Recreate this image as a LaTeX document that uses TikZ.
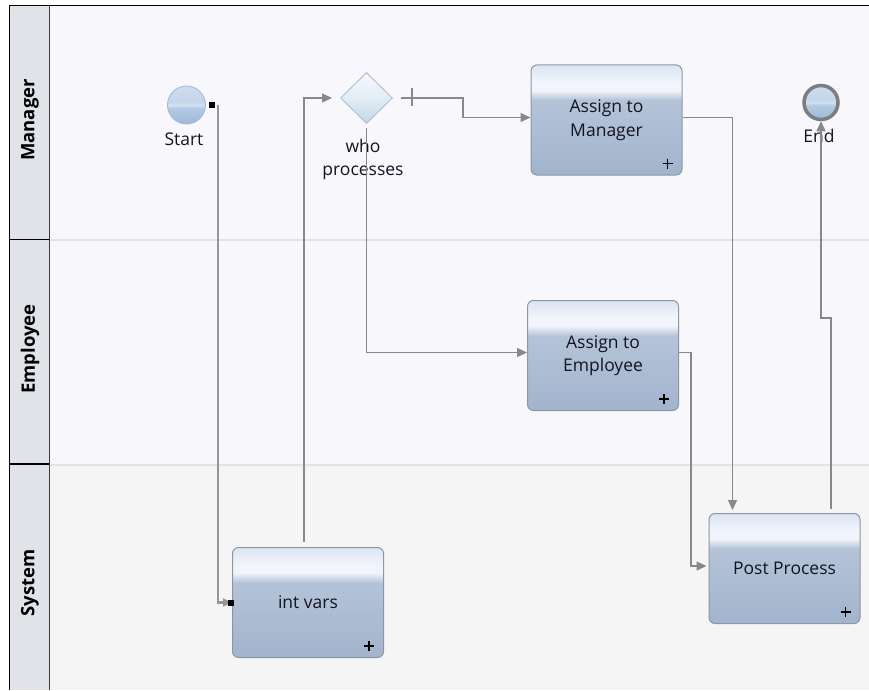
\documentclass[tikz,border=0pt]{standalone}
\usepackage{fontspec}
\setmainfont{Open Sans}
\usetikzlibrary{arrows.meta,shapes.geometric,calc}

% lane and frame colours
\definecolor{lanebg}{RGB}{248,248,252}
\definecolor{sysbg}{RGB}{245,245,245}
\definecolor{headbg}{RGB}{224,227,232}
\definecolor{lanesep}{RGB}{226,227,232}
\definecolor{headline}{RGB}{58,58,58}
% connectors and outlines
\definecolor{flowgray}{RGB}{136,136,136}
\definecolor{startgray}{RGB}{150,150,150}
\definecolor{boxline}{RGB}{140,150,164}
\definecolor{txt}{RGB}{20,20,32}
% task fill
\definecolor{tkTop}{RGB}{218,228,242}
\definecolor{tkBand}{RGB}{242,245,251}
\definecolor{tkMid}{RGB}{180,195,216}
\definecolor{tkBot}{RGB}{162,180,205}
% event fill
\definecolor{evTop}{RGB}{205,221,238}
\definecolor{evUpper}{RGB}{196,214,234}
\definecolor{evBand}{RGB}{212,226,241}
\definecolor{evLow}{RGB}{178,202,228}
\definecolor{evBot}{RGB}{158,186,217}
\definecolor{evEdge}{RGB}{160,184,210}
\definecolor{endRing}{RGB}{125,125,125}
% gateway fill
\definecolor{gwTop}{RGB}{245,249,252}
\definecolor{gwMid}{RGB}{226,237,246}
\definecolor{gwBot}{RGB}{194,217,234}
\definecolor{gwEdge}{RGB}{178,193,208}

\pgfdeclareverticalshading{taskfill}{100bp}{color(0bp)=(tkBot); color(25bp)=(tkBot); color(59bp)=(tkMid); color(63.5bp)=(tkBand); color(67bp)=(tkBand); color(75bp)=(tkTop); color(100bp)=(tkTop)}
\pgfdeclareverticalshading{eventfill}{100bp}{color(0bp)=(evBot); color(25bp)=(evBot); color(46bp)=(evLow); color(50bp)=(evBand); color(54bp)=(evUpper); color(75bp)=(evTop); color(100bp)=(evTop)}
\pgfdeclareverticalshading{gatefill}{100bp}{color(0bp)=(gwBot); color(25bp)=(gwBot); color(50bp)=(gwMid); color(75bp)=(gwTop); color(100bp)=(gwTop)}

% the "+" marker of a collapsed sub-process
\newcommand\plusmark[1]{%
  \draw[plusline] ([xshift=-20pt,yshift=12pt]#1.south east) -- ++(10,0)
                  ([xshift=-15pt,yshift=17pt]#1.south east) -- ++(0,10);}

\begin{document}
\begin{tikzpicture}[x=1pt,y=-1pt,
  lanelbl/.style={rotate=90, font=\bfseries\fontsize{18.5}{22}\selectfont, text=black},
  lbl/.style={font=\fontsize{17.5}{23.5}\selectfont, text=txt, inner sep=0pt},
  task/.style={rectangle, rounded corners=6pt, minimum width=151, minimum height=110,
    draw=boxline, line width=1pt, shading=taskfill, align=center, text=txt,
    font=\fontsize{17.5}{23.5}\selectfont},
  event/.style={circle, inner sep=0pt, shading=eventfill},
  gateway/.style={diamond, inner sep=0pt, minimum width=52, minimum height=51,
    draw=gwEdge, line width=1pt, shading=gatefill},
  flow/.style={draw=flowgray, line width=1.3pt, -{Triangle[length=10pt,width=9pt]}},
  startflow/.style={draw=startgray, line width=2.2pt, -{Triangle[length=9pt,width=8pt]}},
  handle/.style={fill=black, inner sep=0pt, minimum size=6pt},
  plusline/.style={draw=black, line width=1.4pt}]

\useasboundingbox (0,0) rectangle (869,690);
\fill[white] (0,0) rectangle (869,690);

% lanes
\fill[lanebg] (49.5,6) rectangle (869,464);
\fill[sysbg] (49.5,464) rectangle (869,690);
\fill[headbg] (9.5,6) rectangle (49.5,690);
\draw[lanesep, line width=2pt] (49.5,240) -- (869,240) (49.5,464.5) -- (869,464.5);
\draw[black, line width=1.2pt] (9.5,239.5) -- (49.5,239.5) (9.5,464) -- (49.5,464);
\draw[headline, line width=1.6pt] (49.5,6) -- (49.5,690);
\draw[black, line width=1pt] (9.5,690) -- (9.5,6) -- (869,6);

\node[lanelbl] (mgr) at (30,120) {Manager};
\node[lanelbl] (emp) at (30,349) {Employee};
\node[lanelbl] (sys) at (30,583) {System};

% events and gateway
\node[event, draw=evEdge, line width=0.8pt, minimum size=38] (start) at (186.5,105) {};
\node[lbl] (startlbl) at (184,139) {Start};
\node[event, draw=endRing, line width=3.5pt, minimum size=34] (endev) at (821,102.5) {};
\node[lbl] (endlbl) at (819,136) {End};
\node[gateway] (gw) at (366.5,98) {};
\node[lbl, align=center] (gwlbl) at (363,159.5) {who\\processes};

% tasks
\node[task] (iv)  at (308,602.5) {int vars};
\node[task] (atm) at (606.5,120) {Assign to\\Manager};
\node[task] (ate) at (603,355.5) {Assign to\\Employee};
\node[task] (pp)  at (784.5,568.5) {Post Process};
\plusmark{iv}
\plusmark{atm}
\plusmark{ate}
\plusmark{pp}

% sequence flows
\draw[startflow] ([xshift=12pt]start.east) |- (iv.west);
\node[handle] (h1) at ([xshift=6pt]start.east) {};
\node[handle] (h2) at ([xshift=-1pt]iv.west) {};

\draw[flow] ([xshift=-4pt,yshift=5pt]iv.north) |- ([xshift=-8pt]gw.west);
\draw[flow] ([xshift=8pt]gw.east) -- (463,98) |- ([yshift=2.5pt]atm.west);
\draw[draw=flowgray, line width=1.3pt] ([xshift=19pt,yshift=9.5pt]gw.east) -- ++(0,18);
\draw[flow] ([yshift=-4pt]gw.south) |- ([yshift=3pt]ate.west);
\draw[flow] ([yshift=2.5pt]atm.east) -| ([xshift=-52pt,yshift=3pt]pp.north);
\draw[flow] ([yshift=3pt]ate.east) -- ++(12,0) |- ([xshift=-2pt,yshift=2.5pt]pp.west);
\draw[flow] ([xshift=46.5pt,yshift=4.5pt]pp.north) -- ++(0,-190.5) -| (endev.south);

\end{tikzpicture}
\end{document}
